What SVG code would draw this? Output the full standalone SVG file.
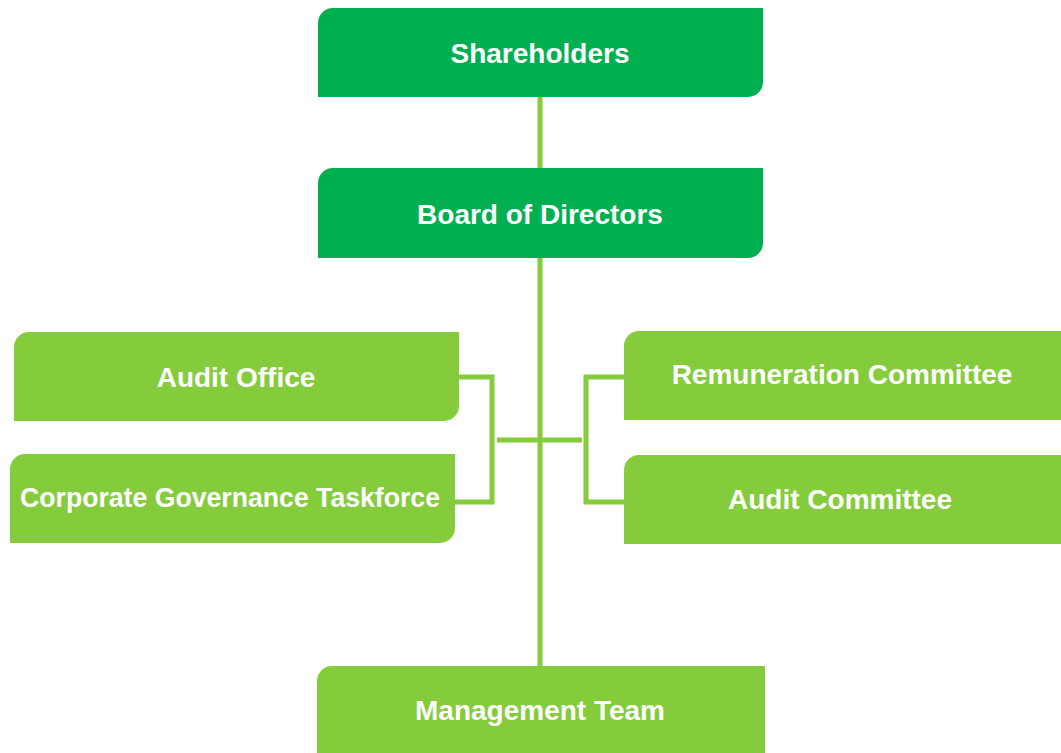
<svg xmlns="http://www.w3.org/2000/svg" width="1061" height="753" viewBox="0 0 1061 753">
<style>
.dark{fill:#00B050}
.light{fill:#84CC3C}
.t{font-family:"Liberation Sans",Arial,sans-serif;font-weight:bold;font-size:28px;fill:#FFFFFF;text-anchor:middle}
.c{fill:none;stroke:#84CC3C;stroke-width:5}
</style>
<rect width="1061" height="753" fill="#FFFFFF"/>
<g id="connectors">
<line class="c" x1="540" y1="97" x2="540" y2="667"/>
<polyline class="c" points="459,377 492,377 492,502 455,502"/>
<polyline class="c" points="624,377 586,377 586,502 624,502"/>
<line class="c" x1="497" y1="440" x2="582" y2="440"/>
</g>
<g id="shareholders">
<path class="dark" d="M333,8 H763 V82 A15,15 0 0 1 748,97 H318 V23 A15,15 0 0 1 333,8 Z"/>
<text class="t" x="540" y="63">Shareholders</text>
</g>
<g id="board">
<path class="dark" d="M333,168 H763 V243 A15,15 0 0 1 748,258 H318 V183 A15,15 0 0 1 333,168 Z"/>
<text class="t" x="540" y="224">Board of Directors</text>
</g>
<g id="audit-office">
<path class="light" d="M29,332 H459 V406 A15,15 0 0 1 444,421 H14 V347 A15,15 0 0 1 29,332 Z"/>
<text class="t" x="236" y="387">Audit Office</text>
</g>
<g id="cgt">
<path class="light" d="M25,454 H455 V528 A15,15 0 0 1 440,543 H10 V469 A15,15 0 0 1 25,454 Z"/>
<text class="t" x="230" y="507" textLength="420" lengthAdjust="spacingAndGlyphs">Corporate Governance Taskforce</text>
</g>
<g id="remuneration">
<path class="light" d="M639,331 H1061 V420 H624 V346 A15,15 0 0 1 639,331 Z"/>
<text class="t" x="842" y="384">Remuneration Committee</text>
</g>
<g id="audit-committee">
<path class="light" d="M639,455 H1061 V544 H624 V470 A15,15 0 0 1 639,455 Z"/>
<text class="t" x="840" y="509">Audit Committee</text>
</g>
<g id="management">
<path class="light" d="M332,666 H765 V753 H317 V681 A15,15 0 0 1 332,666 Z"/>
<text class="t" x="540" y="720">Management Team</text>
</g>
</svg>
